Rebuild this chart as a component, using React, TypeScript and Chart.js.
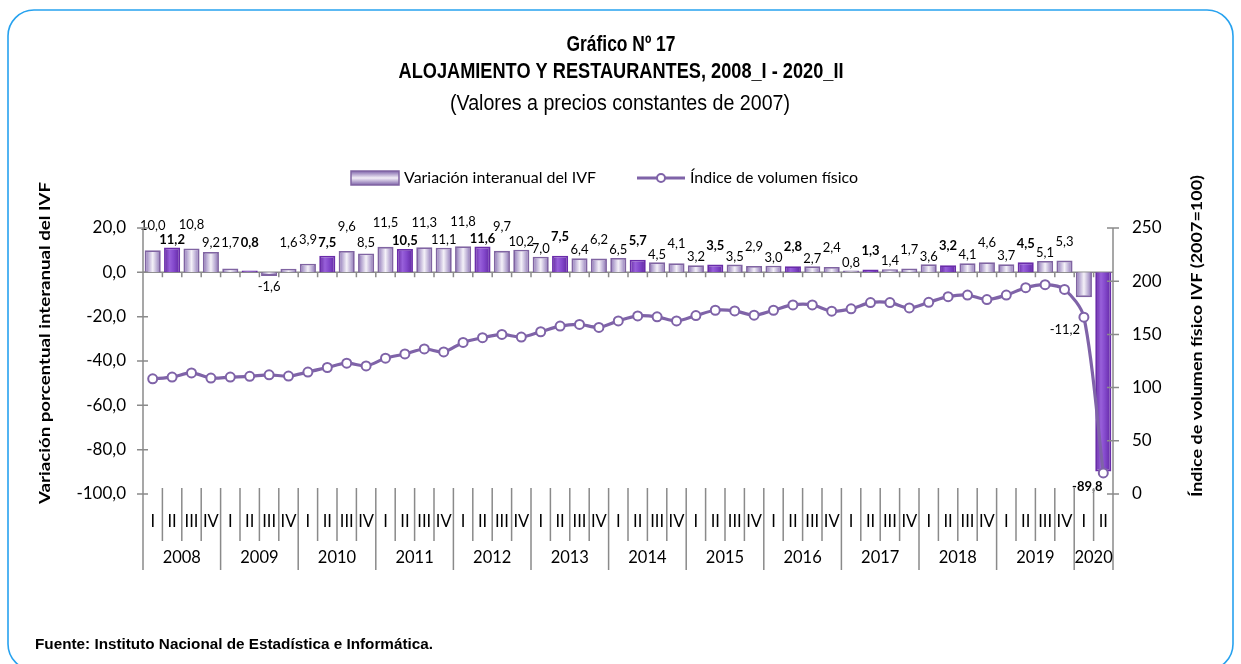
import React, { useEffect, useRef } from "react";
import { Chart, registerables } from "chart.js";

Chart.register(...registerables);

// ---------------- DATA ----------------
const years = ["2008", "2009", "2010", "2011", "2012", "2013", "2014", "2015", "2016", "2017", "2018", "2019", "2020"];
const quarterNames = ["I", "II", "III", "IV"];
const quartersPerYear = [4, 4, 4, 4, 4, 4, 4, 4, 4, 4, 4, 4, 2];

const variation = [
  10.0, 11.2, 10.8, 9.2,
  1.7, 0.8, -1.6, 1.6,
  3.9, 7.5, 9.6, 8.5,
  11.5, 10.5, 11.3, 11.1,
  11.8, 11.6, 9.7, 10.2,
  7.0, 7.5, 6.4, 6.2,
  6.5, 5.7, 4.5, 4.1,
  3.2, 3.5, 3.5, 2.9,
  3.0, 2.8, 2.7, 2.4,
  0.8, 1.3, 1.4, 1.7,
  3.6, 3.2, 4.1, 4.6,
  3.7, 4.5, 5.1, 5.3,
  -11.2, -89.8,
];

const volumeIndex = [
  108.3, 109.9, 113.8, 109.0,
  109.9, 110.6, 112.0, 110.8,
  114.6, 118.9, 123.0, 120.4,
  127.6, 131.6, 136.3, 133.5,
  142.5, 146.9, 150.0, 147.5,
  152.5, 157.8, 159.4, 156.6,
  162.7, 167.4, 166.5, 162.7,
  167.7, 172.7, 172.1, 168.1,
  172.7, 177.7, 177.7, 171.8,
  174.0, 179.9, 179.9, 174.9,
  180.2, 185.5, 187.0, 182.7,
  187.0, 193.9, 196.7, 192.3,
  166.2, 19.8,
];

const leftTicks = { min: -100, max: 20, step: 20 };
const rightTicks = { min: 0, max: 250, step: 50 };

const titleLines = ["Gráfico Nº 17", "ALOJAMIENTO Y RESTAURANTES, 2008_I - 2020_II", "(Valores a precios constantes de 2007)"];
const legendBar = "Variación interanual del IVF";
const legendLine = "Índice de volumen físico";
const leftAxisTitle = "Variación porcentual interanual del IVF";
const rightAxisTitle = "Índice de volumen físico IVF (2007=100)";
const sourceText = "Fuente: Instituto Nacional de Estadística e Informática.";

// categories built from years and quarters
const categories: string[] = [];
const quarterOf: string[] = [];
years.forEach((y, yi) => {
  for (let q = 0; q < quartersPerYear[yi]; q++) {
    categories.push(`${y}_${quarterNames[q]}`);
    quarterOf.push(quarterNames[q]);
  }
});

// ---------------- STYLE ----------------
const LINE_COLOR = "#7f63a8";
const AXIS_COLOR = "#8a8a8a";
const BAR_PCT = 0.83;
const SANS = "Lato, 'Open Sans', sans-serif";
const ARIAL = "'Liberation Sans', Arial, sans-serif";

const fmt1 = (v: number) => v.toFixed(1).replace(".", ",");

function fitText(ctx: CanvasRenderingContext2D, text: string, x: number, y: number, font: string, targetW: number, align: CanvasTextAlign, rotate = 0) {
  ctx.save();
  ctx.font = font;
  const w = ctx.measureText(text).width || 1;
  const s = targetW / w;
  ctx.translate(x, y);
  if (rotate) ctx.rotate(rotate);
  ctx.scale(s, 1);
  ctx.textAlign = align;
  ctx.textBaseline = "middle";
  ctx.fillStyle = "#000";
  ctx.fillText(text, 0, 0);
  ctx.restore();
}

function barGradient(ctx: CanvasRenderingContext2D, x: number, w: number, dark: boolean) {
  const g = ctx.createLinearGradient(x - w / 2, 0, x + w / 2, 0);
  if (dark) {
    g.addColorStop(0, "#62279f");
    g.addColorStop(0.35, "#9860da");
    g.addColorStop(0.6, "#8449cc");
    g.addColorStop(1, "#5f25a0");
  } else {
    g.addColorStop(0, "#7f64aa");
    g.addColorStop(0.2, "#b3a3cf");
    g.addColorStop(0.5, "#f4f1f8");
    g.addColorStop(0.8, "#b3a3cf");
    g.addColorStop(1, "#7f64aa");
  }
  return g;
}

const decorPlugin = {
  id: "decor",
  beforeDraw(chart: any) {
    const { ctx, width, height } = chart;
    ctx.save();
    ctx.fillStyle = "#ffffff";
    ctx.fillRect(0, 0, width, height);
    // rounded frame
    const x0 = 8, y0 = 10, x1 = 1233, y1 = 670, r = 26;
    ctx.beginPath();
    ctx.moveTo(x0 + r, y0);
    ctx.lineTo(x1 - r, y0);
    ctx.arcTo(x1, y0, x1, y0 + r, r);
    ctx.lineTo(x1, y1 - r);
    ctx.arcTo(x1, y1, x1 - r, y1, r);
    ctx.lineTo(x0 + r, y1);
    ctx.arcTo(x0, y1, x0, y1 - r, r);
    ctx.lineTo(x0, y0 + r);
    ctx.arcTo(x0, y0, x0 + r, y0, r);
    ctx.closePath();
    ctx.strokeStyle = "#27a2ef";
    ctx.lineWidth = 1.6;
    ctx.stroke();
    ctx.restore();
  },
  beforeDatasetsDraw(chart: any) {
    const { ctx, chartArea: ca, scales } = chart;
    const yL = scales.y;
    const n = categories.length;
    const cw = (ca.right - ca.left) / n;
    const y0 = yL.getPixelForValue(0);
    ctx.save();
    ctx.strokeStyle = AXIS_COLOR;
    ctx.lineWidth = 1.5;
    ctx.beginPath();
    ctx.moveTo(ca.left, y0);
    ctx.lineTo(ca.right, y0);
    for (let i = 1; i < n; i++) {
      const bx = ca.left + cw * i;
      ctx.moveTo(bx, y0);
      ctx.lineTo(bx, y0 + 5);
    }
    ctx.stroke();
    ctx.restore();
  },
  afterDatasetsDraw(chart: any) {
    const { ctx, chartArea: ca } = chart;
    const meta = chart.getDatasetMeta(1);
    ctx.save();
    ctx.fillStyle = "#000";
    ctx.textAlign = "center";
    ctx.textBaseline = "middle";
    meta.data.forEach((el: any, i: number) => {
      const v = variation[i];
      const bold = i % 4 === 1;
      ctx.font = `${bold ? "bold " : ""}13px ${SANS}`;
      const top = Math.min(el.y, el.base);
      const bottom = Math.max(el.y, el.base);
      let x = el.x;
      let y: number;
      if (v >= 0) {
        const high = i < 20 ? i % 2 === 0 : i % 2 === 1;
        if (i < 20) {
          y = high ? top - 24 : top - 8;
          y = Math.min(y, ca.top + 15);
        } else {
          y = top - (high ? 19 : 8);
        }
      } else if (v > -5) {
        y = bottom + 11;
      } else if (v > -50) {
        x = el.x - 19;
        y = bottom + 33;
      } else {
        x = el.x - 16;
        y = bottom + 15;
      }
      ctx.fillText(fmt1(v), x, y);
    });
    ctx.restore();
  },
  afterDraw(chart: any) {
    const { ctx, chartArea: ca, scales } = chart;
    const yL = scales.y;
    const yR = scales.y1;
    const n = categories.length;
    const cw = (ca.right - ca.left) / n;
    const axisBottom = ca.bottom + 76;
    ctx.save();
    ctx.strokeStyle = AXIS_COLOR;
    ctx.lineWidth = 1.5;
    ctx.beginPath();
    // vertical axes
    ctx.moveTo(ca.left, ca.top);
    ctx.lineTo(ca.left, axisBottom);
    ctx.moveTo(ca.right, ca.top);
    ctx.lineTo(ca.right, axisBottom);
    // crossing tick marks
    yL.ticks.forEach((t: any) => {
      const y = yL.getPixelForValue(t.value);
      ctx.moveTo(ca.left - 6, y);
      ctx.lineTo(ca.left + 5, y);
    });
    yR.ticks.forEach((t: any) => {
      const y = yR.getPixelForValue(t.value);
      ctx.moveTo(ca.right - 6, y);
      ctx.lineTo(ca.right + 6, y);
    });
    // category separators
    for (let i = 1; i < n; i++) {
      const bx = ca.left + cw * i;
      const yearStart = quarterOf[i] === "I";
      ctx.moveTo(bx, ca.bottom - 6);
      ctx.lineTo(bx, yearStart ? axisBottom : ca.bottom + 47);
    }
    ctx.stroke();

    // quarter labels
    ctx.fillStyle = "#000";
    ctx.textAlign = "center";
    ctx.textBaseline = "middle";
    ctx.font = `16.5px ${SANS}`;
    for (let i = 0; i < n; i++) {
      const cx = ca.left + cw * (i + 0.5);
      ctx.fillText(quarterOf[i], cx, ca.bottom + 28);
    }
    // year labels
    let start = 0;
    years.forEach((y, yi) => {
      const cnt = quartersPerYear[yi];
      const cx = ca.left + cw * (start + cnt / 2);
      ctx.fillText(y, cx, ca.bottom + 64);
      start += cnt;
    });

    // titles
    fitText(ctx, titleLines[0], 621, 45, `bold 22px ${ARIAL}`, 109, "center");
    fitText(ctx, titleLines[1], 621, 72, `bold 22px ${ARIAL}`, 445, "center");
    fitText(ctx, titleLines[2], 620, 104, `22px ${ARIAL}`, 340, "center");

    // legend
    const lg = ctx.createLinearGradient(0, 171, 0, 185);
    lg.addColorStop(0, "#7f64aa");
    lg.addColorStop(0.5, "#f3eff8");
    lg.addColorStop(1, "#7f64aa");
    ctx.fillStyle = lg;
    ctx.fillRect(351, 171, 48, 14);
    ctx.strokeStyle = "#8064a2";
    ctx.lineWidth = 1.5;
    ctx.strokeRect(351, 171, 48, 14);
    fitText(ctx, legendBar, 404, 178, `15px ${SANS}`, 192, "left");
    ctx.strokeStyle = LINE_COLOR;
    ctx.lineWidth = 3;
    ctx.beginPath();
    ctx.moveTo(637, 178);
    ctx.lineTo(685, 178);
    ctx.stroke();
    ctx.beginPath();
    ctx.arc(661, 178, 4, 0, Math.PI * 2);
    ctx.fillStyle = "#fff";
    ctx.fill();
    ctx.lineWidth = 2;
    ctx.stroke();
    fitText(ctx, legendLine, 690, 178, `15px ${SANS}`, 168, "left");

    // axis titles
    fitText(ctx, leftAxisTitle, 45, 343, `bold 16px ${SANS}`, 322, "center", -Math.PI / 2);
    fitText(ctx, rightAxisTitle, 1197, 336, `bold 16px ${SANS}`, 322, "center", -Math.PI / 2);

    // source
    fitText(ctx, sourceText, 35, 645, `bold 14px ${ARIAL}`, 398, "left");
    ctx.restore();
  },
};

export default function App() {
  const canvasRef = useRef<HTMLCanvasElement | null>(null);

  useEffect(() => {
    const canvas = canvasRef.current;
    if (!canvas) return;
    const chart = new Chart(canvas, {
      type: "bar",
      data: {
        labels: categories,
        datasets: [
          {
            type: "line",
            label: legendLine,
            data: volumeIndex,
            yAxisID: "y1",
            borderColor: LINE_COLOR,
            borderWidth: 3.2,
            pointRadius: 4.5,
            pointBackgroundColor: "#ffffff",
            pointBorderColor: LINE_COLOR,
            pointBorderWidth: 2,
            tension: 0.3,
            order: 0,
          } as any,
          {
            type: "bar",
            label: legendBar,
            data: variation,
            yAxisID: "y",
            barPercentage: BAR_PCT,
            categoryPercentage: 1,
            borderWidth: 1.8,
            borderColor: (c: any) => (c.dataIndex % 4 === 1 ? "#6a2caa" : "#8064a2"),
            backgroundColor: (c: any) => {
              const ch = c.chart;
              const xs = ch && ch.scales && ch.scales.x;
              const ca = ch && ch.chartArea;
              if (!xs || !ca || c.type !== "data") return "#9f8bc2";
              const x = xs.getPixelForValue(c.dataIndex);
              const w = ((ca.right - ca.left) / categories.length) * BAR_PCT;
              if (!isFinite(x) || !isFinite(w)) return "#9f8bc2";
              return barGradient(ch.ctx, x, w, c.dataIndex % 4 === 1);
            },
            order: 1,
          } as any,
        ],
      },
      options: {
        responsive: false,
        animation: false,
        devicePixelRatio: 1,
        layout: { padding: { left: 30, right: 28, top: 228, bottom: 170 } },
        plugins: {
          legend: { display: false },
          title: { display: false },
          tooltip: { enabled: false },
        },
        scales: {
          x: { display: false, offset: true },
          y: {
            position: "left",
            min: leftTicks.min,
            max: leftTicks.max,
            grid: { display: false, drawTicks: false },
            border: { display: false },
            ticks: {
              stepSize: leftTicks.step,
              padding: 17,
              color: "#000",
              font: { family: SANS, size: 17 },
              callback: (v: any) => fmt1(Number(v)),
            },
            afterFit: (s: any) => {
              s.width = 113;
            },
          },
          y1: {
            position: "right",
            min: rightTicks.min,
            max: rightTicks.max,
            grid: { display: false, drawTicks: false },
            border: { display: false },
            ticks: {
              stepSize: rightTicks.step,
              padding: 19,
              color: "#000",
              font: { family: SANS, size: 17 },
              callback: (v: any) => String(v),
            },
            afterFit: (s: any) => {
              s.width = 100;
            },
          },
        },
      },
      plugins: [decorPlugin],
    });
    return () => chart.destroy();
  }, []);

  return (
    <div style={{ position: "absolute", left: 0, top: 0, width: 1241, height: 664, background: "#fff" }}>
      <canvas ref={canvasRef} width={1241} height={664} style={{ display: "block", width: 1241, height: 664 }} />
    </div>
  );
}
